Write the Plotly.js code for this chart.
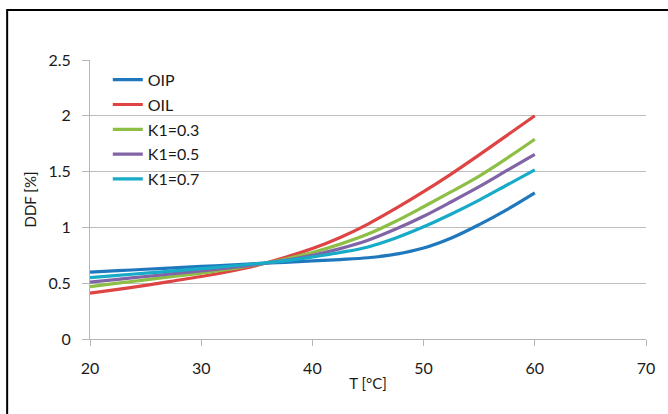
<!DOCTYPE html>
<html>
<head>
<meta charset="utf-8">
<script src="https://cdn.plot.ly/plotly-3.0.1.min.js"></script>
<style>
html,body{margin:0;padding:0;background:#fff;}
#chart{width:668px;height:414px;}
</style>
</head>
<body>
<div id="chart"></div>
<script>
const T   = [20, 22.5, 25, 27.5, 30, 32.5, 35, 37.5, 40, 42.5, 45, 47.5, 50, 52.5, 55, 57.5, 60];
const OIP = [0.60, 0.612, 0.625, 0.637, 0.65, 0.662, 0.675, 0.687, 0.70, 0.712, 0.728, 0.76, 0.815, 0.905, 1.025, 1.16, 1.31];
const OIL = [0.41, 0.445, 0.48, 0.52, 0.56, 0.605, 0.66, 0.73, 0.81, 0.91, 1.03, 1.17, 1.32, 1.48, 1.65, 1.825, 2.00];
const K03 = [0.47, 0.50, 0.53, 0.56, 0.59, 0.625, 0.665, 0.715, 0.775, 0.85, 0.94, 1.055, 1.185, 1.32, 1.46, 1.62, 1.79];
const K05 = [0.51, 0.535, 0.56, 0.585, 0.61, 0.638, 0.668, 0.705, 0.75, 0.81, 0.885, 0.985, 1.10, 1.23, 1.365, 1.51, 1.655];
const K07 = [0.55, 0.57, 0.59, 0.61, 0.63, 0.652, 0.675, 0.70, 0.735, 0.775, 0.825, 0.905, 1.005, 1.12, 1.245, 1.38, 1.515];
const names = ['OIP', 'OIL', 'K1=0.3', 'K1=0.5', 'K1=0.7'];
const series = [OIP, OIL, K03, K05, K07];
const colors = ['#1f78bd', '#de4444', '#8cbf44', '#8064a6', '#17abc8'];

const traces = series.map((ys, i) => ({
  x: T, y: ys, name: names[i], legendgroup: 'g' + i, type: 'scatter', mode: 'lines',
  line: {color: colors[i], width: 3.2, shape: 'spline', smoothing: 1}
}));

const fontFam = 'Lato, "Open Sans", sans-serif';
const txt = '#1a1a1a';
const layout = {
  width: 668, height: 414,
  margin: {l: 90, r: 22, t: 60, b: 75},
  paper_bgcolor: '#fff', plot_bgcolor: '#fff',
  font: {family: fontFam, size: 16, color: txt},
  showlegend: true,
  legend: {x: 0.032, y: 0.99, xanchor: 'left', yanchor: 'top', bgcolor: 'rgba(0,0,0,0)',
           font: {family: fontFam, size: 16, color: txt}, tracegroupgap: 1},
  xaxis: {range: [20, 70], tickvals: [20, 30, 40, 50, 60, 70], showgrid: false, zeroline: false,
          showline: true, linecolor: '#b5b5b5', linewidth: 1, ticks: 'outside', ticklen: 6, tickcolor: '#b5b5b5',
          ticklabelstandoff: 9,
          tickfont: {size: 16, color: txt},
          title: {text: 'T [°C]', font: {size: 15, color: txt}, standoff: 2}, fixedrange: true},
  yaxis: {range: [0, 2.5], tickvals: [0, 0.5, 1, 1.5, 2, 2.5], ticktext: ['0', '0.5', '1', '1.5', '2', '2.5'],
          showgrid: true, gridcolor: '#bdbdbd', gridwidth: 1, zeroline: false,
          showline: true, linecolor: '#b5b5b5', linewidth: 1, ticks: 'outside', ticklen: 7, tickcolor: '#b5b5b5',
          ticklabelstandoff: 8,
          tickfont: {size: 16, color: txt},
          title: {text: 'DDF [%]', font: {size: 15, color: txt}, standoff: 8}, fixedrange: true},
  shapes: [{type: 'rect', xref: 'paper', yref: 'paper', x0: -0.149, x1: 1.3, y0: -0.4, y1: 1.179,
            line: {color: '#000', width: 2}, fillcolor: 'rgba(0,0,0,0)', layer: 'above'}]
};
Plotly.newPlot('chart', traces, layout, {displayModeBar: false, staticPlot: true});
</script>
</body>
</html>
